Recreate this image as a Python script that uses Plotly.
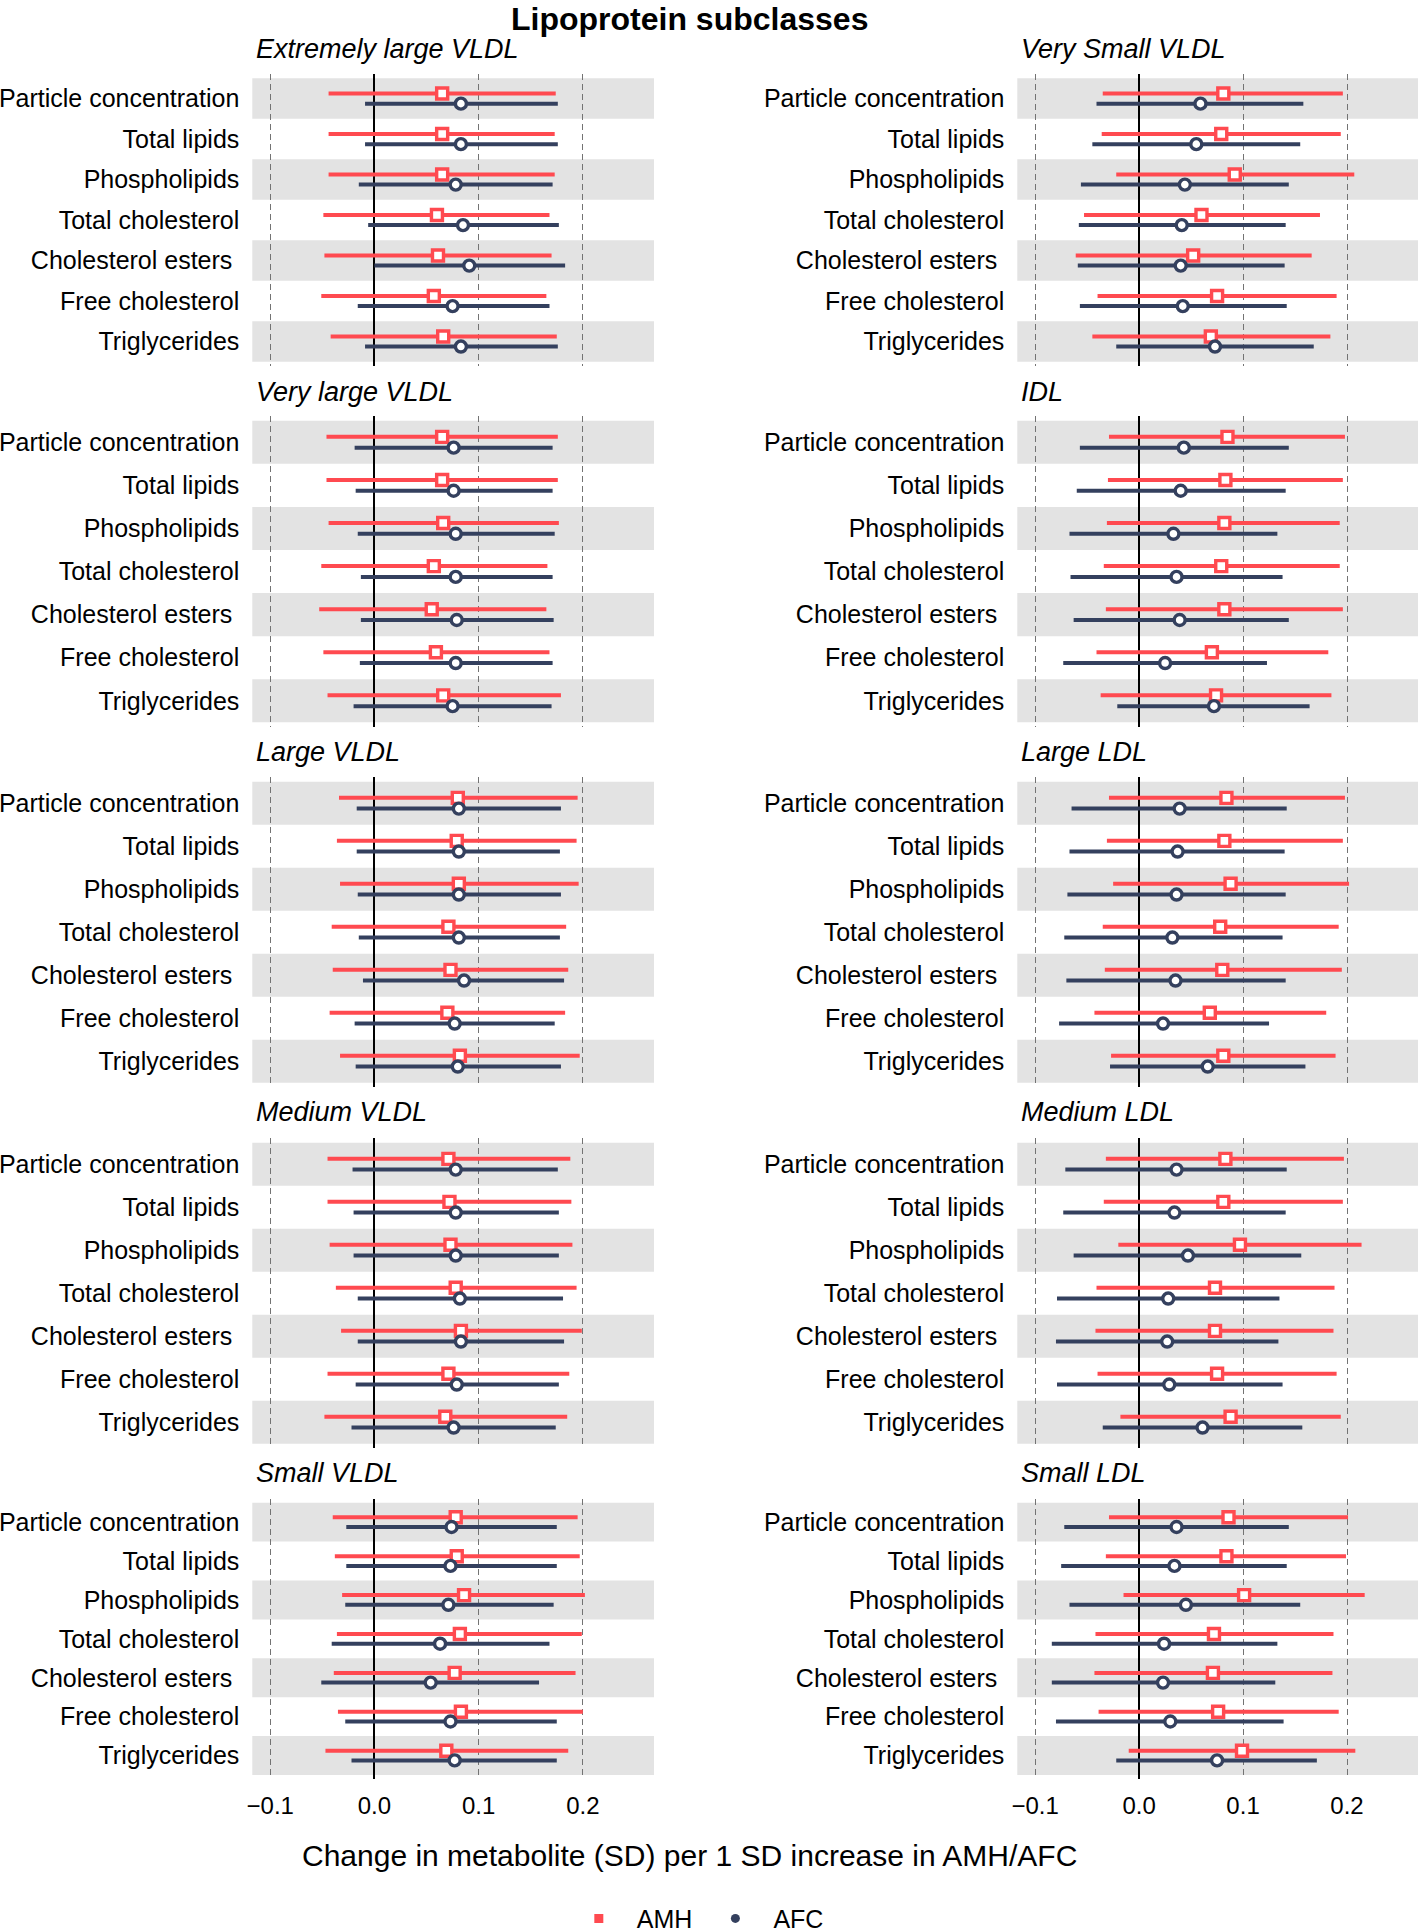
import plotly.graph_objects as go

# ---------------- data ----------------
CATEGORIES = ["Particle concentration", "Total lipids", "Phospholipids", "Total cholesterol",
              "Cholesterol esters\u00a0", "Free cholesterol", "Triglycerides"]
PANEL_TITLES = ["Extremely large VLDL", "Very large VLDL", "Large VLDL", "Medium VLDL", "Small VLDL",
                "Very Small VLDL", "IDL", "Large LDL", "Medium LDL", "Small LDL"]
SERIES = ["AMH", "AFC"]
X_TICKS = [-0.1, 0.0, 0.1, 0.2]
X_TICK_TEXT = ["\u22120.1", "0.0", "0.1", "0.2"]

# Extremely large VLDL
XL_VLDL_AMH = [0.065, 0.065, 0.065, 0.060, 0.061, 0.057, 0.066]
XL_VLDL_AMH_LO = [-0.044, -0.044, -0.044, -0.049, -0.048, -0.051, -0.042]
XL_VLDL_AMH_HI = [0.174, 0.173, 0.173, 0.168, 0.170, 0.165, 0.175]
XL_VLDL_AFC = [0.083, 0.083, 0.078, 0.085, 0.091, 0.075, 0.083]
XL_VLDL_AFC_LO = [-0.009, -0.009, -0.015, -0.006, 0.000, -0.016, -0.009]
XL_VLDL_AFC_HI = [0.176, 0.176, 0.171, 0.177, 0.183, 0.168, 0.176]

# Very large VLDL
VL_VLDL_AMH = [0.065, 0.065, 0.066, 0.057, 0.055, 0.059, 0.066]
VL_VLDL_AMH_LO = [-0.046, -0.046, -0.044, -0.051, -0.053, -0.049, -0.045]
VL_VLDL_AMH_HI = [0.176, 0.176, 0.177, 0.166, 0.165, 0.168, 0.179]
VL_VLDL_AFC = [0.076, 0.076, 0.078, 0.078, 0.079, 0.078, 0.075]
VL_VLDL_AFC_LO = [-0.019, -0.018, -0.016, -0.013, -0.013, -0.014, -0.020]
VL_VLDL_AFC_HI = [0.171, 0.171, 0.173, 0.171, 0.172, 0.171, 0.170]

# Large VLDL
L_VLDL_AMH = [0.080, 0.079, 0.081, 0.071, 0.073, 0.070, 0.082]
L_VLDL_AMH_LO = [-0.034, -0.036, -0.033, -0.041, -0.040, -0.043, -0.033]
L_VLDL_AMH_HI = [0.195, 0.194, 0.196, 0.184, 0.186, 0.183, 0.197]
L_VLDL_AFC = [0.081, 0.081, 0.081, 0.081, 0.086, 0.077, 0.080]
L_VLDL_AFC_LO = [-0.017, -0.017, -0.016, -0.015, -0.011, -0.019, -0.018]
L_VLDL_AFC_HI = [0.179, 0.178, 0.179, 0.178, 0.182, 0.173, 0.179]

# Medium VLDL
M_VLDL_AMH = [0.071, 0.072, 0.073, 0.078, 0.083, 0.071, 0.068]
M_VLDL_AMH_LO = [-0.045, -0.045, -0.043, -0.037, -0.032, -0.045, -0.048]
M_VLDL_AMH_HI = [0.188, 0.189, 0.190, 0.194, 0.199, 0.187, 0.185]
M_VLDL_AFC = [0.078, 0.078, 0.078, 0.082, 0.083, 0.079, 0.076]
M_VLDL_AFC_LO = [-0.021, -0.020, -0.020, -0.016, -0.016, -0.018, -0.022]
M_VLDL_AFC_HI = [0.176, 0.177, 0.177, 0.181, 0.182, 0.177, 0.174]

# Small VLDL
S_VLDL_AMH = [0.078, 0.079, 0.086, 0.082, 0.077, 0.083, 0.069]
S_VLDL_AMH_LO = [-0.040, -0.038, -0.031, -0.036, -0.039, -0.035, -0.047]
S_VLDL_AMH_HI = [0.195, 0.197, 0.202, 0.199, 0.193, 0.200, 0.186]
S_VLDL_AFC = [0.074, 0.073, 0.071, 0.063, 0.054, 0.073, 0.077]
S_VLDL_AFC_LO = [-0.027, -0.027, -0.028, -0.041, -0.051, -0.028, -0.022]
S_VLDL_AFC_HI = [0.175, 0.175, 0.172, 0.168, 0.158, 0.175, 0.175]

# Very Small VLDL
XS_VLDL_AMH = [0.081, 0.079, 0.092, 0.060, 0.052, 0.075, 0.069]
XS_VLDL_AMH_LO = [-0.035, -0.036, -0.022, -0.053, -0.061, -0.040, -0.045]
XS_VLDL_AMH_HI = [0.196, 0.194, 0.207, 0.174, 0.166, 0.190, 0.184]
XS_VLDL_AFC = [0.059, 0.055, 0.044, 0.041, 0.040, 0.042, 0.073]
XS_VLDL_AFC_LO = [-0.041, -0.045, -0.056, -0.058, -0.059, -0.057, -0.022]
XS_VLDL_AFC_HI = [0.158, 0.155, 0.144, 0.141, 0.140, 0.142, 0.168]

# IDL
IDL_AMH = [0.085, 0.083, 0.082, 0.079, 0.082, 0.070, 0.074]
IDL_AMH_LO = [-0.029, -0.030, -0.031, -0.034, -0.032, -0.041, -0.037]
IDL_AMH_HI = [0.198, 0.196, 0.193, 0.193, 0.196, 0.182, 0.185]
IDL_AFC = [0.043, 0.040, 0.033, 0.036, 0.039, 0.025, 0.072]
IDL_AFC_LO = [-0.057, -0.060, -0.067, -0.066, -0.063, -0.073, -0.021]
IDL_AFC_HI = [0.144, 0.141, 0.133, 0.138, 0.144, 0.123, 0.164]

# Large LDL
L_LDL_AMH = [0.084, 0.082, 0.088, 0.078, 0.080, 0.068, 0.081]
L_LDL_AMH_LO = [-0.029, -0.031, -0.025, -0.035, -0.033, -0.043, -0.027]
L_LDL_AMH_HI = [0.198, 0.196, 0.202, 0.192, 0.195, 0.180, 0.189]
L_LDL_AFC = [0.039, 0.037, 0.036, 0.032, 0.035, 0.023, 0.066]
L_LDL_AFC_LO = [-0.065, -0.067, -0.069, -0.072, -0.070, -0.077, -0.028]
L_LDL_AFC_HI = [0.142, 0.140, 0.141, 0.138, 0.141, 0.125, 0.160]

# Medium LDL
M_LDL_AMH = [0.083, 0.081, 0.097, 0.073, 0.073, 0.075, 0.088]
M_LDL_AMH_LO = [-0.032, -0.034, -0.020, -0.041, -0.042, -0.040, -0.018]
M_LDL_AMH_HI = [0.197, 0.196, 0.214, 0.188, 0.187, 0.190, 0.194]
M_LDL_AFC = [0.036, 0.034, 0.047, 0.028, 0.027, 0.029, 0.061]
M_LDL_AFC_LO = [-0.071, -0.073, -0.063, -0.079, -0.080, -0.079, -0.035]
M_LDL_AFC_HI = [0.142, 0.141, 0.156, 0.135, 0.134, 0.138, 0.157]

# Small LDL
S_LDL_AMH = [0.086, 0.084, 0.101, 0.072, 0.071, 0.076, 0.099]
S_LDL_AMH_LO = [-0.029, -0.032, -0.015, -0.042, -0.043, -0.039, -0.010]
S_LDL_AMH_HI = [0.201, 0.199, 0.217, 0.187, 0.186, 0.192, 0.208]
S_LDL_AFC = [0.036, 0.034, 0.045, 0.024, 0.023, 0.030, 0.075]
S_LDL_AFC_LO = [-0.072, -0.075, -0.067, -0.084, -0.084, -0.080, -0.022]
S_LDL_AFC_HI = [0.144, 0.142, 0.155, 0.133, 0.131, 0.139, 0.171]

PANELS = [
    (XL_VLDL_AMH, XL_VLDL_AMH_LO, XL_VLDL_AMH_HI, XL_VLDL_AFC, XL_VLDL_AFC_LO, XL_VLDL_AFC_HI),
    (VL_VLDL_AMH, VL_VLDL_AMH_LO, VL_VLDL_AMH_HI, VL_VLDL_AFC, VL_VLDL_AFC_LO, VL_VLDL_AFC_HI),
    (L_VLDL_AMH, L_VLDL_AMH_LO, L_VLDL_AMH_HI, L_VLDL_AFC, L_VLDL_AFC_LO, L_VLDL_AFC_HI),
    (M_VLDL_AMH, M_VLDL_AMH_LO, M_VLDL_AMH_HI, M_VLDL_AFC, M_VLDL_AFC_LO, M_VLDL_AFC_HI),
    (S_VLDL_AMH, S_VLDL_AMH_LO, S_VLDL_AMH_HI, S_VLDL_AFC, S_VLDL_AFC_LO, S_VLDL_AFC_HI),
    (XS_VLDL_AMH, XS_VLDL_AMH_LO, XS_VLDL_AMH_HI, XS_VLDL_AFC, XS_VLDL_AFC_LO, XS_VLDL_AFC_HI),
    (IDL_AMH, IDL_AMH_LO, IDL_AMH_HI, IDL_AFC, IDL_AFC_LO, IDL_AFC_HI),
    (L_LDL_AMH, L_LDL_AMH_LO, L_LDL_AMH_HI, L_LDL_AFC, L_LDL_AFC_LO, L_LDL_AFC_HI),
    (M_LDL_AMH, M_LDL_AMH_LO, M_LDL_AMH_HI, M_LDL_AFC, M_LDL_AFC_LO, M_LDL_AFC_HI),
    (S_LDL_AMH, S_LDL_AMH_LO, S_LDL_AMH_HI, S_LDL_AFC, S_LDL_AFC_LO, S_LDL_AFC_HI),
]

# ---------------- styling / layout ----------------
W, H = 1418, 1932
FONT = "Liberation Sans, Arial, Helvetica, sans-serif"
RED = "#FF4A50"
NAVY = "#34405E"
BAND = "#E3E3E3"
DODGE = 0.125

COL_X = [(252.3, 654.0), (1017.3, 1418.0)]
ROW_Y = [(74.3, 365.8), (416.4, 726.6), (777.4, 1087.0), (1138.4, 1448.0), (1498.8, 1778.9)]
TITLE_Y = [49.0, 392.3, 752.3, 1112.3, 1472.9]
XRANGE = [-0.1172, 0.2683]

n = len(CATEGORIES)
ypos = [n - k for k in range(n)]

fig = go.Figure()
layout = dict(
    width=W, height=H, autosize=False, template="none",
    margin=dict(l=0, r=0, t=0, b=0, pad=0, autoexpand=False),
    paper_bgcolor="white", plot_bgcolor="white",
    font=dict(family=FONT, color="black", size=25),
    showlegend=True,
)
shapes = []
annotations = []

for i, (amh, amh_lo, amh_hi, afc, afc_lo, afc_hi) in enumerate(PANELS):
    col = i // 5
    row = i % 5
    ax = "" if i == 0 else str(i + 1)
    xa, ya = "x" + ax, "y" + ax
    x0, x1 = COL_X[col]
    y0, y1 = ROW_Y[row]
    layout["xaxis" + ax] = dict(
        domain=[x0 / W, x1 / W], range=XRANGE, anchor=ya,
        tickvals=X_TICKS, ticktext=X_TICK_TEXT, showticklabels=(row == 4),
        tickfont=dict(size=24), ticks="", ticklabelstandoff=10,
        showgrid=True, gridcolor="#737373", gridwidth=1.4, griddash="6px,4px",
        zeroline=True, zerolinecolor="black", zerolinewidth=2.2,
        showline=False, automargin=False, fixedrange=True,
    )
    layout["yaxis" + ax] = dict(
        domain=[1 - y1 / H, 1 - y0 / H], range=[0.4, n + 0.6], anchor=xa,
        tickvals=ypos, ticktext=CATEGORIES, ticks="", ticklabelstandoff=12,
        tickfont=dict(size=25), showgrid=False, zeroline=False, showline=False,
        automargin=False, fixedrange=True,
    )
    for k in range(0, n, 2):
        shapes.append(dict(type="rect", xref=xa + " domain", yref=ya, x0=0, x1=1,
                           y0=ypos[k] - 0.5, y1=ypos[k] + 0.5, fillcolor=BAND,
                           line=dict(width=0), layer="below"))
    annotations.append(dict(text=PANEL_TITLES[i], xref="paper", yref="paper",
                            x=(x0 + 1.5) / W, y=1 - TITLE_Y[row] / H, xanchor="left",
                            yanchor="middle", showarrow=False,
                            font=dict(size=27, family=FONT, color="black", style="italic")))

    for est, lo, hi, off, color, sym in [
        (amh, amh_lo, amh_hi, DODGE, RED, "square"),
        (afc, afc_lo, afc_hi, -DODGE, NAVY, "circle"),
    ]:
        fig.add_trace(go.Scatter(
            x=est, y=[p + off for p in ypos], xaxis=xa, yaxis=ya, mode="markers",
            marker=dict(symbol=sym, size=11, color="white", line=dict(color=color, width=3.4)),
            error_x=dict(type="data", symmetric=False,
                         array=[h - e for h, e in zip(hi, est)],
                         arrayminus=[e - l for e, l in zip(est, lo)],
                         color=color, thickness=4, width=0),
            showlegend=False, hoverinfo="skip", cliponaxis=False,
        ))

# legend-only traces
for name, color, sym in [(SERIES[0], RED, "square"), (SERIES[1], NAVY, "circle")]:
    fig.add_trace(go.Scatter(x=[None], y=[None], mode="markers", name=name,
                             marker=dict(symbol=sym, size=9, color=color)))

annotations.append(dict(text="<b>Lipoprotein subclasses</b>", xref="paper", yref="paper",
                        x=689 / W, y=1, xanchor="center", yanchor="top",
                        showarrow=False, borderpad=0,
                        font=dict(size=32, family=FONT, color="black")))
annotations.append(dict(text="Change in metabolite (SD) per 1 SD increase in AMH/AFC",
                        xref="paper", yref="paper", x=689 / W, y=1 - 1855 / H,
                        xanchor="center", yanchor="middle", showarrow=False,
                        font=dict(size=30, family=FONT, color="black")))

layout["shapes"] = shapes
layout["annotations"] = annotations
layout["legend"] = dict(orientation="h", x=0.49, xanchor="center", y=-0.005, yanchor="bottom",
                        font=dict(size=25, family=FONT, color="black"), itemwidth=66,
                        bgcolor="rgba(0,0,0,0)", borderwidth=0, tracegroupgap=0)
fig.update_layout(**layout)
fig.write_html("out.html", config={"displayModeBar": False},
               post_script="document.body.style.margin='0';document.body.style.padding='0';")
